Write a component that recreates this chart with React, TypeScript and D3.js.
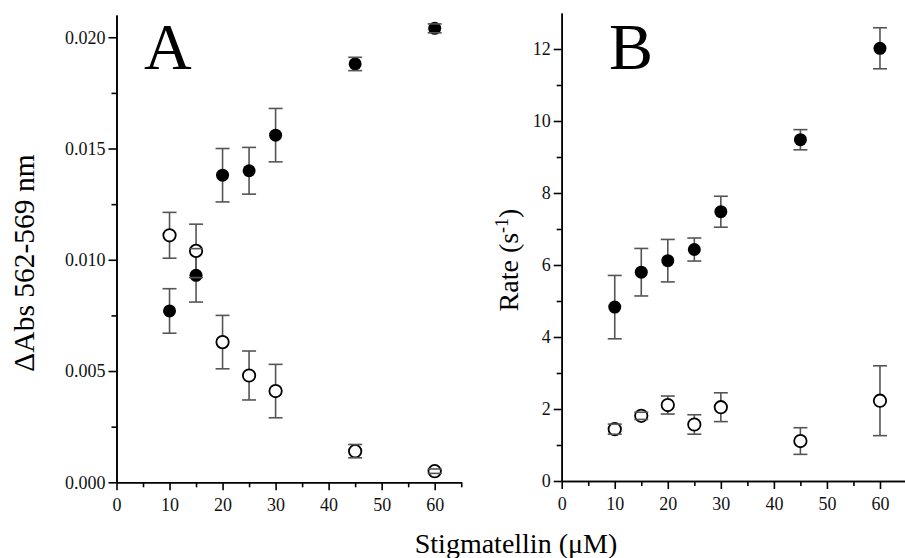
import React, { useRef, useEffect } from 'react';
import * as d3 from 'd3';

// stigmatellin concentration (uM)
const conc = [10, 15, 20, 25, 30, 45, 60];

// panel A: delta Abs 562-569 nm
const absFilled = [0.0077, 0.0093, 0.0138, 0.0140, 0.0156, 0.0188, 0.0204];
const absFilledErr = [0.0010, 0.0012, 0.0012, 0.00105, 0.0012, 0.0003, 0.0002];
const absOpen = [0.0111, 0.0104, 0.0063, 0.0048, 0.0041, 0.0014, 0.0005];
const absOpenErr = [0.00103, 0.0012, 0.0012, 0.0011, 0.0012, 0.0003, 0.0001];

// panel B: rate (s-1)
const rateFilled = [4.83, 5.8, 6.12, 6.43, 7.48, 9.48, 12.02];
const rateFilledErr = [0.88, 0.66, 0.59, 0.32, 0.43, 0.28, 0.57];
const rateOpen = [1.44, 1.81, 2.11, 1.57, 2.05, 1.11, 2.23];
const rateOpenErr = [0.14, 0.1, 0.25, 0.27, 0.4, 0.37, 0.97];

const xTicks = [0, 10, 20, 30, 40, 50, 60];
const xMinor = [5, 15, 25, 35, 45, 55, 65];
const absTicks = [0, 0.005, 0.01, 0.015, 0.02];
const absMinor = [0.0025, 0.0075, 0.0125, 0.0175];
const rateTicks = [0, 2, 4, 6, 8, 10, 12];
const rateMinor = [1, 3, 5, 7, 9, 11];

const W = 905;
const H = 558;
const FONT = '"Liberation Serif", "Times New Roman", serif';

const App = () => {
    const ref = useRef(null);

    useEffect(() => {
        const svg = d3.select(ref.current);
        svg.selectAll('*').remove();

        const drawPanel = (opts) => {
            const { left, right, top, bottom, yMax, yTicks, yMinor, yFmt, filled, filledErr, open, openErr, letter, letterX } = opts;
            const x = d3.scaleLinear().domain([0, 65]).range([left, right]);
            const y = d3.scaleLinear().domain([0, yMax]).range([bottom, top]);
            const g = svg.append('g');

            // axes
            g.append('g').attr('transform', `translate(0,${bottom})`)
                .call(d3.axisBottom(x).tickValues(xTicks).tickSize(8).tickPadding(8).tickSizeOuter(0));
            g.append('g').attr('transform', `translate(0,${bottom})`)
                .call(d3.axisBottom(x).tickValues(xMinor).tickSize(5).tickFormat(() => '').tickSizeOuter(0));
            g.append('g').attr('transform', `translate(${left},0)`)
                .call(d3.axisLeft(y).tickValues(yTicks).tickFormat(yFmt).tickSize(8).tickPadding(3).tickSizeOuter(0));
            g.append('g').attr('transform', `translate(${left},0)`)
                .call(d3.axisLeft(y).tickValues(yMinor).tickSize(5).tickFormat(() => '').tickSizeOuter(0));
            g.selectAll('.domain, .tick line').attr('stroke', '#000').attr('stroke-width', 1.6);
            g.selectAll('.tick text')
                .attr('fill', '#111')
                .style('font-family', FONT)
                .style('font-size', '18px');

            // error bars (stems behind markers)
            const drawStems = (vals, errs) => {
                g.append('g').selectAll('line').data(vals).join('line')
                    .attr('x1', (d, i) => x(conc[i])).attr('x2', (d, i) => x(conc[i]))
                    .attr('y1', (d, i) => y(d - errs[i])).attr('y2', (d, i) => y(d + errs[i]))
                    .attr('stroke', '#555').attr('stroke-width', 1.6);
            };
            const drawCaps = (vals, errs) => {
                const caps = g.append('g');
                [-1, 1].forEach((s) => {
                    caps.append('g').selectAll('line').data(vals).join('line')
                        .attr('x1', (d, i) => x(conc[i]) - 7).attr('x2', (d, i) => x(conc[i]) + 7)
                        .attr('y1', (d, i) => y(d + s * errs[i])).attr('y2', (d, i) => y(d + s * errs[i]))
                        .attr('stroke', '#555').attr('stroke-width', 1.6);
                });
            };
            drawStems(open, openErr);
            drawStems(filled, filledErr);

            g.append('g').selectAll('circle').data(open).join('circle')
                .attr('cx', (d, i) => x(conc[i])).attr('cy', (d) => y(d)).attr('r', 6.2)
                .attr('fill', '#fff').attr('stroke', '#000').attr('stroke-width', 1.8);
            g.append('g').selectAll('circle').data(filled).join('circle')
                .attr('cx', (d, i) => x(conc[i])).attr('cy', (d) => y(d)).attr('r', 6.5)
                .attr('fill', '#000');

            drawCaps(open, openErr);
            drawCaps(filled, filledErr);

            // panel letter
            g.append('text').attr('x', letterX).attr('y', 69)
                .style('font-family', FONT).style('font-size', '66px').attr('fill', '#000')
                .text(letter);
        };

        drawPanel({
            left: 116.5, right: 461.2, top: 15, bottom: 482.3,
            yMax: 0.021, yTicks: absTicks, yMinor: absMinor, yFmt: d3.format('.3f'),
            filled: absFilled, filledErr: absFilledErr, open: absOpen, openErr: absOpenErr,
            letter: 'A', letterX: 144,
        });
        drawPanel({
            left: 561.7, right: 906.5, top: 13, bottom: 481,
            yMax: 13, yTicks: rateTicks, yMinor: rateMinor, yFmt: d3.format('d'),
            filled: rateFilled, filledErr: rateFilledErr, open: rateOpen, openErr: rateOpenErr,
            letter: 'B', letterX: 609,
        });

        // axis titles
        svg.append('text')
            .attr('transform', 'translate(34,263) rotate(-90)')
            .attr('text-anchor', 'middle').style('font-family', FONT).style('font-size', '29.5px')
            .text('ΔAbs 562-569 nm');

        const rate = svg.append('text')
            .attr('transform', 'translate(518,260) rotate(-90)')
            .attr('text-anchor', 'middle').style('font-family', FONT).style('font-size', '28px');
        rate.append('tspan').text('Rate (s');
        rate.append('tspan').attr('dy', -10).style('font-size', '18px').text('-1');
        rate.append('tspan').attr('dy', 10).text(')');

        svg.append('text')
            .attr('x', 516).attr('y', 553)
            .attr('text-anchor', 'middle').style('font-family', FONT).style('font-size', '28px')
            .text('Stigmatellin (μM)');

        return () => {
            svg.selectAll('*').remove();
        };
    }, []);

    return (
        <div style={{ position: 'absolute', left: 0, top: 0 }}>
            <svg ref={ref} width={W} height={H} style={{ display: 'block', background: '#fff' }} />
        </div>
    );
};

export default App;
